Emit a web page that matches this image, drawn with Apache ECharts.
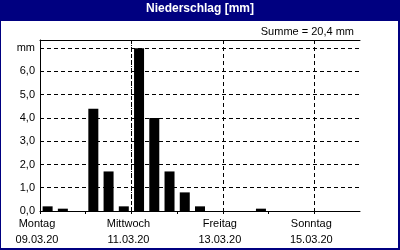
<!DOCTYPE html>
<html><head><meta charset="utf-8">
<script src="https://cdn.jsdelivr.net/npm/echarts@6/dist/echarts.min.js"></script>
<style>html,body{margin:0;padding:0;background:#fff}#c{width:400px;height:250px}</style>
</head><body><div id="c"></div>
<script>
// 8-hour bins, Monday 09.03.20 00:00 to Monday 16.03.20 00:00
var binHours = 8;
var values = [0.2,0.1,0,4.4,1.7,0.2,7.0,4.0,1.7,0.8,0.2,0,0,0,0.1,0,0,0,0,0,0];
var dayNames = ['Montag','Dienstag','Mittwoch','Donnerstag','Freitag','Samstag','Sonntag'];
var dayDates = ['09.03.20','10.03.20','11.03.20','12.03.20','13.03.20','14.03.20','15.03.20'];
var yTicks = ['0,0','1,0','2,0','3,0','4,0','5,0','6,0','mm'];
var titleText = 'Niederschlag [mm]';
var sumText = 'Summe = 20,4 mm';
var nowHour = 48;

var font = 'Liberation Sans';
var data = values.map(function(v,i){ return [i*binHours + binHours/2, v]; });
var chart = echarts.init(document.getElementById('c'), null, {renderer:'canvas'});
chart.setOption({
  animation:false,
  backgroundColor:'#000080',
  graphic:[{type:'rect', z:-10, shape:{x:1,y:21,width:397,height:227}, style:{fill:'#ffffff'}}],
  title:[
    {text:titleText, left:'center', top:-2, textStyle:{color:'#fff',fontFamily:font,fontSize:12,fontWeight:'bold'}},
    {text:sumText, right:41, top:21, textStyle:{color:'#000',fontFamily:font,fontSize:11,fontWeight:'normal'}}
  ],
  grid:{left:40, right:40, top:40, bottom:39},
  xAxis:[{
    type:'value', position:'bottom', min:0, max:168, interval:24,
    axisLine:{show:true, lineStyle:{color:'#000',width:1}},
    axisTick:{show:true, length:3, lineStyle:{color:'#000'}},
    splitLine:{show:false},
    axisLabel:{color:'#000', fontFamily:font, fontSize:11, margin:5, lineHeight:16, padding:[0,6,0,0],
      showMaxLabel:false,
      formatter:function(v){ var d=Math.round(v/24); if(d%2!==0||d>6) return ''; return dayNames[d]+'\n'+dayDates[d]; }}
  },{
    type:'value', position:'top', min:0, max:168, interval:48,
    axisLine:{show:true, onZero:false, lineStyle:{color:'#000',width:1}},
    axisTick:{show:false}, axisLabel:{show:false},
    splitLine:{show:true, showMinLine:false, showMaxLine:false, lineStyle:{color:'#000', type:[4,3], width:1}}
  }],
  yAxis:{
    type:'value', min:0, max:7.35, interval:1,
    axisLine:{show:true, lineStyle:{color:'#000'}},
    axisTick:{show:false},
    splitLine:{show:true, showMinLine:false, showMaxLine:false, lineStyle:{color:'#000', type:[4,3], width:1}},
    axisLabel:{color:'#000', fontFamily:font, fontSize:11, margin:5,
      formatter:function(v){ var i=Math.round(v); if(Math.abs(v-i)>1e-6) return ''; return yTicks[i]; }}
  },
  series:[{
    type:'bar', data:data, barWidth:10, itemStyle:{color:'#000'}, xAxisIndex:0,
    markLine:{silent:true, symbol:'none', label:{show:false},
      lineStyle:{color:'#000', type:[1,2], width:1},
      data:[{xAxis:nowHour}]}
  }]
});
</script></body></html>
